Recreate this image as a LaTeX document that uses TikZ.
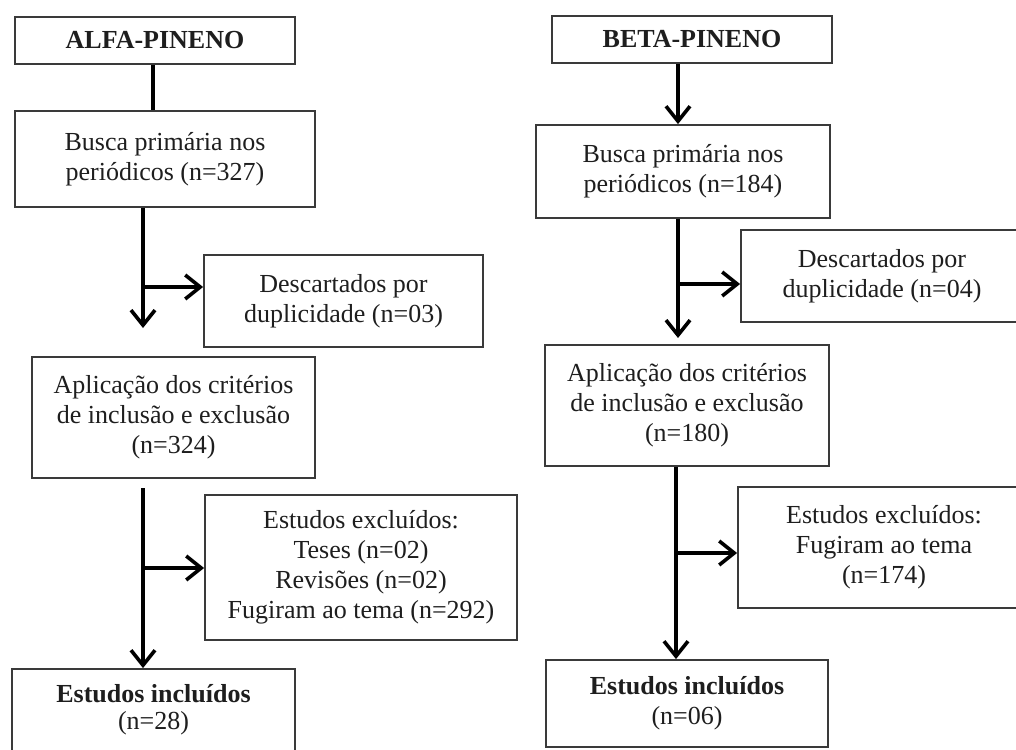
\documentclass[tikz,border=0pt]{standalone}
\usepackage{fontspec}
\setmainfont{Liberation Serif}
\usetikzlibrary{arrows.meta}
\definecolor{boxgray}{HTML}{3A3A3A}
\definecolor{txt}{HTML}{1E1E1E}
\begin{document}
\begin{tikzpicture}[x=1pt,y=-1pt,
  box/.style={draw=boxgray, line width=1.8pt, inner sep=0pt, align=center,
    font=\fontsize{26}{30}\selectfont, text=txt},
  conn/.style={line width=3.6pt, draw=black},
  arr/.style={conn, -{Straight Barb[length=15pt,width=24pt]}}]
\useasboundingbox (0,0) rectangle (1016,749);
\fill[white] (0,0) rectangle (1016,749);
\clip (0,0) rectangle (1016,749);

% ---------- left column ----------
\node[box, minimum width=280pt, minimum height=47pt] (alfa) at (155,40.5) {\textbf{ALFA-PINENO}};
\node[box, minimum width=300pt, minimum height=96pt] (busca1) at (165,159) {Busca primária nos\\periódicos (n=327)};
\node[box, minimum width=279pt, minimum height=92pt] (desc1) at (343.5,301) {Descartados por\\duplicidade (n=03)};
\node[box, minimum width=283pt, minimum height=121pt] (apl1) at (173.5,417.5) {Aplicação dos critérios\\de inclusão e exclusão\\(n=324)};
\node[box, minimum width=312pt, minimum height=145pt] (exc1) at (361,567.5) {Estudos excluídos:\\Teses (n=02)\\Revisões (n=02)\\Fugiram ao tema (n=292)};
\node[box, minimum width=283pt, minimum height=82pt] (inc1) at (153.5,710) {\textbf{Estudos incluídos}\\[-3pt](n=28)};

\coordinate (tA) at (153,0);
\coordinate (tB) at (143,0);
\coordinate (e1) at (143,328);
\coordinate (b1) at (143,287);
\coordinate (s2) at (143,488);
\coordinate (b2) at (143,568);

\draw[conn] (alfa.south -| tA) -- (busca1.north -| tA);
\draw[arr] (busca1.south -| tB) -- (e1);
\draw[arr] (b1) -- (b1 -| desc1.west);
\draw[arr] (s2) -- (inc1.north -| tB);
\draw[arr] (b2) -- (b2 -| exc1.west);

% ---------- right column ----------
\node[box, minimum width=280pt, minimum height=47pt] (beta) at (692,39.5) {\textbf{BETA-PINENO}};
\node[box, minimum width=294pt, minimum height=93pt] (busca2) at (683,171.5) {Busca primária nos\\periódicos (n=184)};
\node[box, minimum width=282pt, minimum height=92pt] (desc2) at (882,276) {Descartados por\\duplicidade (n=04)};
\node[box, minimum width=284pt, minimum height=121pt] (apl2) at (687,405.5) {Aplicação dos critérios\\de inclusão e exclusão\\(n=180)};
\node[box, minimum width=292pt, minimum height=121pt] (exc2) at (884,547.5) {Estudos excluídos:\\Fugiram ao tema\\(n=174)};
\node[box, minimum width=282pt, minimum height=87pt] (inc2) at (687,703.5) {\textbf{Estudos incluídos}\\(n=06)};

\coordinate (tC) at (678,0);
\coordinate (tD) at (676,0);
\coordinate (e3) at (678,338);
\coordinate (b3) at (678,284);
\coordinate (b4) at (676,553);

\draw[arr] (beta.south -| tC) -- (busca2.north -| tC);
\draw[arr] (busca2.south -| tC) -- (e3);
\draw[arr] (b3) -- (b3 -| desc2.west);
\draw[arr] (apl2.south -| tD) -- (inc2.north -| tD);
\draw[arr] (b4) -- (b4 -| exc2.west);
\end{tikzpicture}
\end{document}
